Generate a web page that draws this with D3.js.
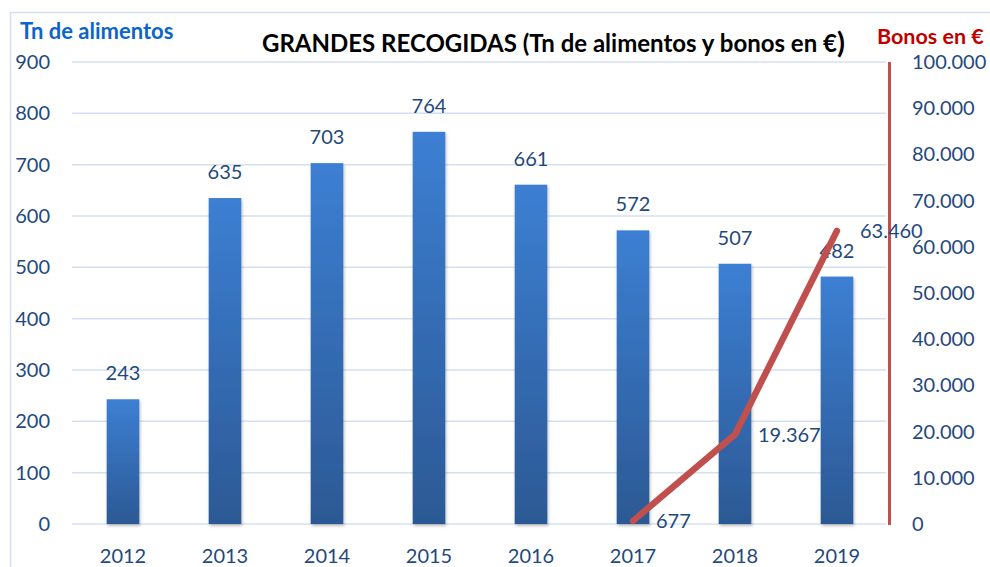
<!DOCTYPE html>
<html>
<head>
<meta charset="utf-8">
<script src="https://cdn.jsdelivr.net/npm/d3@7"></script>
<style>
  html, body { margin: 0; padding: 0; background: #fff; }
  svg { display: block; font-family: Lato, "Open Sans", sans-serif; }
</style>
</head>
<body>
<svg id="chart" width="990" height="567"></svg>
<script>
const years = ["2012", "2013", "2014", "2015", "2016", "2017", "2018", "2019"];
const toneladas = [243, 635, 703, 764, 661, 572, 507, 482];
const bonoYears = ["2017", "2018", "2019"];
const bonos = [677, 19367, 63460];
const leftTicks = [0, 100, 200, 300, 400, 500, 600, 700, 800, 900];
const rightTicks = [0, 10000, 20000, 30000, 40000, 50000, 60000, 70000, 80000, 90000, 100000];

const svg = d3.select("#chart");
const plot = { left: 72, right: 888, top: 62, bottom: 524 };
const labelBlue = "#1F497D";

const fmt = d3.formatLocale({ decimal: ",", thousands: ".", grouping: [3], currency: ["", "€"] }).format(",d");

const x = d3.scaleBand()
    .domain(years)
    .range([plot.left, plot.right])
    .paddingInner(0.68)
    .paddingOuter(0.34);

const yLeft = d3.scaleLinear().domain([0, 900]).range([plot.bottom, plot.top]);
const yRight = d3.scaleLinear().domain([0, 100000]).range([plot.bottom, plot.top]);

// gradient for bars
const defs = svg.append("defs");
const grad = defs.append("linearGradient")
    .attr("id", "barGrad")
    .attr("x1", 0).attr("y1", 0).attr("x2", 0).attr("y2", 1);
grad.append("stop").attr("offset", "0%").attr("stop-color", "#3C7FD3");
grad.append("stop").attr("offset", "100%").attr("stop-color", "#2C5994");

const shadow = defs.append("filter").attr("id", "shadow")
    .attr("x", "-30%").attr("y", "-10%").attr("width", "160%").attr("height", "130%");
shadow.append("feDropShadow")
    .attr("dx", 1).attr("dy", 2).attr("stdDeviation", 1.5)
    .attr("flood-color", "#000").attr("flood-opacity", 0.25);

// outer frame
svg.append("rect")
    .attr("x", 10.5).attr("y", 12.5)
    .attr("width", 990).attr("height", 570)
    .attr("fill", "none")
    .attr("stroke", "#D3DFF0")
    .attr("stroke-width", 1.5);

// gridlines
svg.append("g")
    .selectAll("line")
    .data(leftTicks)
    .join("line")
    .attr("x1", plot.left).attr("x2", plot.right - 2)
    .attr("y1", d => yLeft(d)).attr("y2", d => yLeft(d))
    .attr("stroke", "#D5E0F0")
    .attr("stroke-width", 1.5);

// left axis
const leftAxis = svg.append("g")
    .attr("transform", `translate(${plot.left - 22},0)`)
    .call(d3.axisLeft(yLeft).tickValues(leftTicks).tickSize(0).tickPadding(0));
leftAxis.select(".domain").remove();
leftAxis.selectAll("text")
    .attr("fill", labelBlue)
    .attr("font-size", 20)
    .attr("font-family", "Lato, sans-serif");

// right axis
const rightAxis = svg.append("g")
    .attr("transform", `translate(${plot.right + 24},0)`)
    .call(d3.axisRight(yRight).tickValues(rightTicks).tickFormat(fmt).tickSize(0).tickPadding(0));
rightAxis.select(".domain").remove();
rightAxis.selectAll("text")
    .attr("fill", labelBlue)
    .attr("font-size", 20)
    .attr("font-family", "Lato, sans-serif");

// bottom axis
const bottomAxis = svg.append("g")
    .attr("transform", `translate(0,${plot.bottom + 20})`)
    .call(d3.axisBottom(x).tickSize(0).tickPadding(0));
bottomAxis.select(".domain").remove();
bottomAxis.selectAll("text")
    .attr("fill", labelBlue)
    .attr("font-size", 20)
    .attr("dy", "0.95em")
    .attr("font-family", "Lato, sans-serif");

// bars
svg.append("g")
    .selectAll("rect")
    .data(toneladas)
    .join("rect")
    .attr("x", (d, i) => x(years[i]))
    .attr("width", x.bandwidth())
    .attr("y", d => yLeft(d))
    .attr("height", d => yLeft(0) - yLeft(d))
    .attr("fill", "url(#barGrad)")
    .attr("filter", "url(#shadow)");

// bar labels
svg.append("g")
    .selectAll("text")
    .data(toneladas)
    .join("text")
    .attr("x", (d, i) => x(years[i]) + x.bandwidth() / 2)
    .attr("y", d => yLeft(d) - 19)
    .attr("text-anchor", "middle")
    .attr("fill", labelBlue)
    .attr("font-size", 20)
    .text(d => d);

// right red axis line
svg.append("line")
    .attr("x1", plot.right + 1.5).attr("x2", plot.right + 1.5)
    .attr("y1", plot.top).attr("y2", plot.bottom + 1)
    .attr("stroke", "#C0504D")
    .attr("stroke-width", 3);

// line series
const line = d3.line()
    .x((d, i) => x(bonoYears[i]) + x.bandwidth() / 2)
    .y(d => yRight(d));

svg.append("path")
    .datum(bonos)
    .attr("d", line)
    .attr("fill", "none")
    .attr("stroke", "#C0504D")
    .attr("stroke-width", 6.5)
    .attr("stroke-linecap", "round")
    .attr("stroke-linejoin", "round");

svg.append("g")
    .selectAll("text")
    .data(bonos)
    .join("text")
    .attr("x", (d, i) => x(bonoYears[i]) + x.bandwidth() / 2 + 23)
    .attr("y", d => yRight(d))
    .attr("dy", "0.35em")
    .attr("fill", labelBlue)
    .attr("font-size", 20)
    .text(d => fmt(d));

// titles
const title = svg.append("text")
    .attr("x", 262).attr("y", 52)
    .attr("font-weight", "bold")
    .attr("font-size", 24)
    .attr("fill", "#000")
    .text("GRANDES RECOGIDAS (Tn de alimentos y bonos en €");
title.append("tspan")
    .attr("font-size", 29)
    .attr("dy", 1)
    .text(")");

svg.append("text")
    .attr("x", 20).attr("y", 39)
    .attr("font-weight", "bold")
    .attr("font-size", 22)
    .attr("fill", "#0B66C8")
    .text("Tn de alimentos");

svg.append("text")
    .attr("x", 877).attr("y", 44)
    .attr("font-weight", "bold")
    .attr("font-size", 21.5)
    .attr("fill", "#C00000")
    .text("Bonos en €");
</script>
</body>
</html>
